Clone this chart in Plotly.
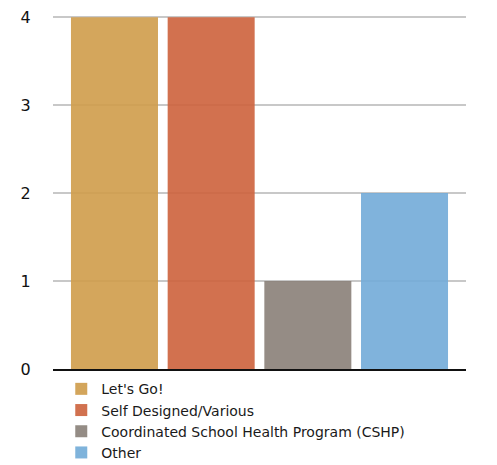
import plotly.graph_objects as go

# Program counts
programs = ["Let's Go!", "Self Designed/Various",
            "Coordinated School Health Program (CSHP)", "Other"]
counts = [4, 4, 1, 2]
colors = ["rgb(207,156,74)", "rgb(205,98,60)", "rgb(137,128,120)", "rgb(114,171,216)"]
y_ticks = [0, 1, 2, 3, 4]

FONT = "'DejaVu Sans', sans-serif"

fig = go.Figure()
for name, val, col in zip(programs, counts, colors):
    fig.add_trace(go.Bar(
        x=[name], y=[val], name=name,
        marker=dict(color=col, line=dict(width=0)),
        opacity=0.9, width=0.9,
    ))

fig.update_layout(
    width=497, height=465,
    margin=dict(l=53, r=31, t=15, b=96, autoexpand=False),
    paper_bgcolor="white", plot_bgcolor="white",
    barmode="overlay",
    showlegend=True,
    legend=dict(
        x=0.02, y=-0.012, xanchor="left", yanchor="top",
        orientation="v", traceorder="normal",
        font=dict(family=FONT, size=14, color="#1a1a1a"),
        tracegroupgap=0, itemwidth=30,
        bgcolor="rgba(0,0,0,0)",
    ),
    xaxis=dict(
        categoryorder="array", categoryarray=programs,
        range=[-0.636, 3.636],
        showticklabels=False, showgrid=False, zeroline=False,
        showline=True, linecolor="#111", linewidth=1.5, ticks="",
    ),
    yaxis=dict(
        range=[0, 4.025], tickvals=y_ticks,
        tickfont=dict(family=FONT, size=16, color="#111"),
        showgrid=True, gridcolor="#c8c8c8", gridwidth=1.5,
        zeroline=False, showline=False,
        ticks="outside", ticklen=18, tickcolor="rgba(0,0,0,0)",
    ),
)

fig.write_html("out.html")
